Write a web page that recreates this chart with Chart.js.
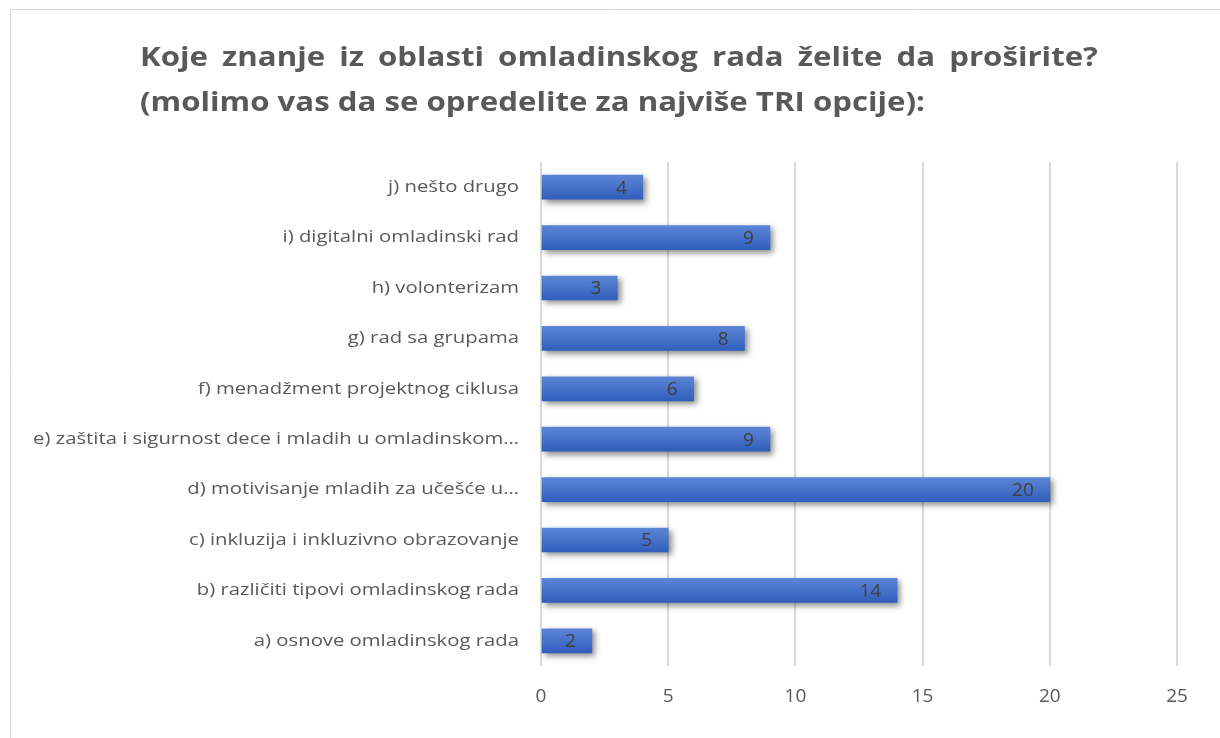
<!DOCTYPE html>
<html>
<head>
<meta charset="utf-8">
<script src="https://cdn.jsdelivr.net/npm/chart.js@4.4.1/dist/chart.umd.min.js"></script>
<style>
  html, body { margin: 0; padding: 0; background: #ffffff; }
  #wrap { width: 1220px; height: 738px; position: relative; }
</style>
</head>
<body>
<div id="wrap"><canvas id="c" width="1220" height="738"></canvas></div>
<script>
const titleLines = [
  "Koje znanje iz oblasti omladinskog rada želite da proširite?",
  "(molimo vas da se opredelite za najviše TRI opcije):"
];
const categories = [
  "a) osnove omladinskog rada",
  "b) različiti tipovi omladinskog rada",
  "c) inkluzija i inkluzivno obrazovanje",
  "d) motivisanje mladih za učešće u…",
  "e) zaštita i sigurnost dece i mladih u omladinskom…",
  "f) menadžment projektnog ciklusa",
  "g) rad sa grupama",
  "h) volonterizam",
  "i) digitalni omladinski rad",
  "j) nešto drugo"
];
const values = [2, 14, 5, 20, 9, 6, 8, 3, 9, 4];
const xTicks = [0, 5, 10, 15, 20, 25];

const FONT = "'Open Sans', Lato, sans-serif";
const TEXT = "#595959";

const framePlugin = {
  id: 'frame',
  beforeDraw(chart) {
    const c = chart.ctx;
    c.save();
    c.fillStyle = '#ffffff';
    c.fillRect(0, 0, chart.width, chart.height);
    c.strokeStyle = '#d9d9d9';
    c.lineWidth = 1;
    c.beginPath();
    c.moveTo(10.5, chart.height + 5);
    c.lineTo(10.5, 9.5);
    c.lineTo(chart.width + 5, 9.5);
    c.stroke();
    c.restore();
  }
};

const titlePlugin = {
  id: 'justTitle',
  afterDraw(chart) {
    const c = chart.ctx;
    c.save();
    c.fillStyle = TEXT;
    c.textBaseline = 'middle';
    c.textAlign = 'left';
    c.font = "bold 27px " + FONT;
    const left = 140;
    const target2 = 785;
    const w2 = c.measureText(titleLines[1]).width;
    const sx = target2 / w2;
    const right1 = 1098;
    const words = titleLines[0].split(' ');
    const ww = words.map(w => c.measureText(w).width * sx);
    const total = ww.reduce((a, b) => a + b, 0);
    const gap = (right1 - left - total) / (words.length - 1);
    let x = left;
    words.forEach((w, i) => {
      c.save();
      c.translate(x, 58);
      c.scale(sx, 1);
      c.fillText(w, 0, 0);
      c.restore();
      x += ww[i] + gap;
    });
    c.save();
    c.translate(left, 103);
    c.scale(sx, 1);
    c.fillText(titleLines[1], 0, 0);
    c.restore();
    c.restore();
  }
};

// category labels, placed through the y scale, stretched to the reference's wide lettering
const yLabelPlugin = {
  id: 'yLabels',
  afterDraw(chart) {
    const c = chart.ctx;
    const ys = chart.scales.y;
    c.save();
    c.fillStyle = TEXT;
    c.font = "17px " + FONT;
    c.textAlign = 'right';
    c.textBaseline = 'middle';
    const longest = Math.max(...categories.map(t => c.measureText(t).width));
    const sx = 486 / longest;
    const rightX = chart.chartArea.left - 22;
    categories.forEach((t, i) => {
      const y = ys.getPixelForTick(i);
      c.save();
      c.translate(rightX, y);
      c.scale(sx, 1);
      c.fillText(t, 0, 0);
      c.restore();
    });
    c.restore();
  }
};

const barDeco = {
  id: 'barDeco',
  beforeDatasetsDraw(chart) {
    const c = chart.ctx;
    c.save();
    c.shadowColor = 'rgba(0,0,0,0.45)';
    c.shadowBlur = 6;
    c.shadowOffsetX = 3;
    c.shadowOffsetY = 3;
  },
  afterDatasetsDraw(chart) {
    const c = chart.ctx;
    c.restore();
    c.save();
    c.fillStyle = '#404040';
    c.font = "19px " + FONT;
    c.textAlign = 'right';
    c.textBaseline = 'middle';
    const meta = chart.getDatasetMeta(0);
    meta.data.forEach((bar, i) => {
      c.fillText(String(chart.data.datasets[0].data[i]), bar.x - 16, bar.y + 1);
    });
    c.restore();
  }
};

new Chart(document.getElementById('c'), {
  type: 'bar',
  data: {
    labels: categories,
    datasets: [{
      data: values,
      barThickness: 24,
      borderWidth: 0,
      backgroundColor(ctx) {
        const chart = ctx.chart;
        const ys = chart.scales && chart.scales.y;
        if (!ys || ctx.dataIndex == null) return '#4472c4';
        const cy = ys.getPixelForValue(ctx.dataIndex);
        if (!isFinite(cy)) return '#4472c4';
        const g = chart.ctx.createLinearGradient(0, cy - 12, 0, cy + 12);
        g.addColorStop(0, '#5d85d5');
        g.addColorStop(0.5, '#4672c8');
        g.addColorStop(1, '#2f5ebb');
        return g;
      }
    }]
  },
  options: {
    indexAxis: 'y',
    responsive: false,
    animation: false,
    layout: { padding: { top: 162, right: 43, bottom: 0, left: 0 } },
    plugins: {
      legend: { display: false },
      title: { display: false },
      tooltip: { enabled: false }
    },
    scales: {
      x: {
        min: 0,
        max: 25,
        afterBuildTicks(scale) { scale.ticks = xTicks.map(v => ({ value: v })); },
        afterFit(scale) { scale.height = 72; },
        grid: { color: '#d9d9d9', lineWidth: 2, drawTicks: false },
        border: { display: false },
        ticks: { color: TEXT, font: { family: FONT, size: 19 }, padding: 19 }
      },
      y: {
        reverse: true,
        afterFit(scale) { scale.width = 541; },
        grid: { display: false, drawTicks: false },
        border: { display: false },
        ticks: { display: false, autoSkip: false }
      }
    }
  },
  plugins: [framePlugin, barDeco, titlePlugin, yLabelPlugin]
});
</script>
</body>
</html>
